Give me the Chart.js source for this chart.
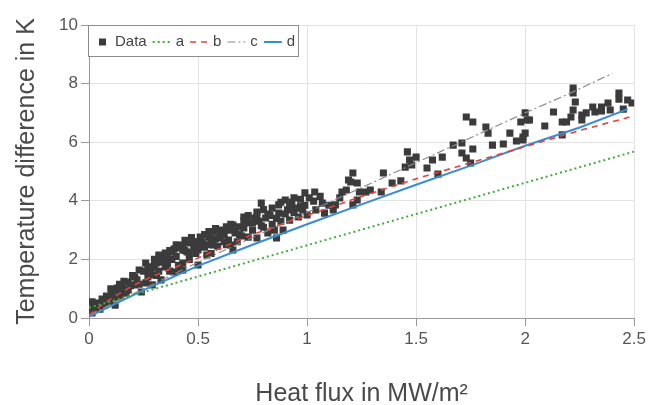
<!DOCTYPE html>
<html>
<head>
<meta charset="utf-8">
<script src="https://cdn.jsdelivr.net/npm/chart.js@4/dist/chart.umd.min.js"></script>
<style>
html,body{margin:0;padding:0;background:#fff;}
#wrap{width:649px;height:405px;}
</style>
</head>
<body>
<div id="wrap"><canvas id="c" width="649" height="405"></canvas></div>
<script>
// Measured data (heat flux in MW/m², temperature difference in K)
const dataX = [
0.005,0.014,0.014,0.04,0.03,0.064,0.07,0.096,0.105,0.12,0.13,0.14,0.15,0.156,0.18,0.18,0.21,0.21,0.22,0.23,0.24,0.26,0.27,0.29,0.29,0.30,0.31,0.33,0.33,0.35,0.35,0.36,0.38,0.39,0.40,0.42,0.43,0.43,0.45,0.45,0.47,
0.02,0.05,0.08,0.09,0.11,0.12,0.16,0.17,0.19,0.2,0.23,0.25,0.26,0.28,0.3,0.32,0.34,0.36,0.37,0.38,0.4,0.41,0.44,0.46,0.48,0.49,0.06,0.1,0.14,0.27,0.31,0.39,0.42,
0.43,0.43,0.46,0.48,0.50,0.50,0.51,0.53,0.54,0.55,0.57,0.57,0.60,0.61,0.63,0.64,0.65,0.66,0.66,0.69,0.71,0.71,0.73,0.74,0.76,0.77,0.77,0.79,0.81,0.82,0.85,0.86,0.87,0.87,0.90,0.91,0.92,0.93,0.96,0.99,
0.52,0.55,0.56,0.58,0.59,0.62,0.63,0.67,0.68,0.7,0.72,0.75,0.78,0.8,0.83,0.84,0.88,0.89,0.94,0.97,
0.3,0.32,0.34,0.37,0.4,0.44,0.47,0.49,0.51,0.53,0.55,0.56,0.58,0.6,0.62,0.64,0.65,0.67,0.69,0.71,0.73,0.75,0.77,0.79,0.8,0.82,0.84,0.86,0.88,0.9,0.92,0.94,0.95,0.97,0.99,1.01,1.06,1.1,1.16,
1.035,1.03,1.07,1.04,0.98,1.0,1.08,1.12,1.13,1.15,1.18,1.19,1.21,1.20,1.23,1.24,1.23,1.21,1.27,1.29,1.35,1.34,1.39,1.43,1.45,1.46,1.47,1.50,1.48,1.55,1.575,1.62,1.60,
1.67,1.71,1.71,1.73,1.76,1.75,1.73,1.76,1.82,1.83,1.93,1.85,1.90,1.96,1.99,2.0,1.98,2.01,2.0,1.99,2.02,
2.09,2.13,2.17,2.17,2.19,2.21,2.22,2.22,2.22,2.23,2.26,2.26,2.28,2.31,2.32,2.35,2.35,2.38,2.39,2.43,2.43,2.45,2.47,2.49
];
const dataY = [
0.27,0.55,0.17,0.51,0.35,0.61,0.44,0.68,0.89,0.44,1.02,0.72,0.89,1.06,1.23,0.96,1.40,1.13,1.30,1.64,0.89,1.88,1.40,1.71,1.13,1.47,1.88,1.98,1.30,2.22,1.74,2.05,2.25,1.57,2.39,1.64,2.49,1.88,2.56,2.25,2.59,
0.4,0.3,0.75,0.55,0.7,0.95,1.25,0.85,1.1,1.45,1.15,1.6,1.2,1.55,1.8,1.6,2.1,1.85,1.6,2.0,2.1,1.8,2.3,2.0,2.4,2.2,0.65,1.0,1.15,1.75,1.45,2.35,2.45,
2.32,1.64,2.22,2.59,2.32,1.81,2.76,2.42,2.15,2.76,2.94,2.49,2.73,3.0,3.11,2.66,2.49,3.17,2.32,3.11,3.45,3.07,2.76,3.24,3.41,3.62,2.73,3.92,3.41,2.9,3.0,2.73,3.86,3.58,4.03,3.69,3.34,3.96,3.45,4.27,
2.6,2.5,2.2,2.7,2.45,2.85,2.5,2.9,2.6,2.8,3.3,3.0,3.3,3.1,3.5,3.2,3.3,3.0,3.6,3.8,
2.0,2.15,1.9,2.3,2.5,2.65,2.75,2.6,2.45,2.85,2.95,2.65,3.05,2.9,2.6,3.0,3.2,3.05,2.85,3.3,3.5,3.25,3.45,3.15,3.7,3.55,3.75,3.4,3.95,3.55,3.8,4.1,3.75,4.05,3.85,4.1,4.15,3.85,4.3,
4.30,3.99,3.92,3.69,3.69,3.52,3.58,3.69,3.86,4.1,4.37,4.71,4.95,4.64,4.61,4.3,4.03,3.86,4.3,4.37,4.95,4.3,4.61,4.68,5.15,5.67,5.39,5.49,5.22,5.12,5.39,5.49,4.91,
5.9,5.97,5.63,5.46,5.77,5.29,6.86,6.69,6.52,6.31,6.31,5.9,5.94,6.04,6.18,7.0,6.69,6.76,6.31,6.08,6.76,
6.55,7.03,6.25,6.69,6.69,6.86,7.1,7.85,7.68,7.37,6.76,6.93,7.0,7.2,7.03,7.2,7.07,7.34,7.1,7.68,7.47,7.13,7.44,7.34
];
// Model curves
const aX = [0, 2.5];
const aY = [0.35, 5.68];
const bX = [0, 0.05, 0.1, 0.2, 0.3, 0.5, 0.75, 1, 1.25, 1.5, 1.75, 2, 2.25, 2.5];
const bY = [0.1, 0.4, 0.65, 1.1, 1.45, 2.05, 2.85, 3.5, 4.15, 4.75, 5.3, 5.85, 6.4, 6.9];
const cX = [0, 0.25, 0.5, 0.75, 1, 1.25, 1.5, 1.75, 2, 2.2, 2.4];
const cY = [0.1, 1.0, 1.9, 2.75, 3.6, 4.45, 5.3, 6.15, 7.0, 7.65, 8.35];
const dX = [0, 0.25, 0.5, 0.75, 1, 1.25, 1.5, 1.75, 2, 2.25, 2.47];
const dY = [0.05, 0.95, 1.78, 2.5, 3.2, 3.88, 4.55, 5.2, 5.88, 6.5, 7.13];
// Axis tick values
const xTicks = [0, 0.5, 1, 1.5, 2, 2.5];
const yTicks = [0, 2, 4, 6, 8, 10];
const xTitle = 'Heat flux in MW/m²';
const yTitle = 'Temperature difference in K';
const legendLabels = ['Data', 'a', 'b', 'c', 'd'];

const zip = (xs, ys) => xs.map((x, i) => ({x: x, y: ys[i]}));

const COL = {data:'#3b3b3b', a:'#3fae3a', b:'#e5413b', c:'#8a8a8a', d:'#3a8dd0'};
const lineStyles = [
  {key:'a', dash:[2,3], w:2},
  {key:'b', dash:[6,5], w:1.6},
  {key:'c', dash:[8,3,2,3], w:1.2},
  {key:'d', dash:[], w:2}
];

const FONT = "'Liberation Sans', Arial, sans-serif";

const legendPlugin = {
  id: 'boxLegend',
  afterDraw(chart) {
    const ctx = chart.ctx;
    const ca = chart.chartArea;
    const left = ca.left - 1, top = ca.top;
    const cy = top + 17;
    ctx.save();
    ctx.fillStyle = '#fff';
    ctx.fillRect(left, top, 210, 31);
    ctx.strokeStyle = '#8c8c8c';
    ctx.lineWidth = 1;
    ctx.strokeRect(left + 0.5, top + 0.5, 210, 31);
    ctx.font = '15px ' + FONT;
    ctx.textBaseline = 'middle';
    ctx.textAlign = 'left';
    ctx.fillStyle = COL.data;
    ctx.fillRect(left + 11, cy - 3.5, 7, 7);
    let x = left + 27;
    ctx.fillStyle = '#444';
    ctx.fillText(legendLabels[0], x, cy);
    x += ctx.measureText(legendLabels[0]).width + 6;
    lineStyles.forEach((s, i) => {
      ctx.beginPath();
      ctx.setLineDash(s.dash);
      ctx.strokeStyle = COL[s.key];
      ctx.lineWidth = s.w;
      ctx.moveTo(x, cy);
      ctx.lineTo(x + 18, cy);
      ctx.stroke();
      ctx.setLineDash([]);
      x += 23;
      ctx.fillStyle = '#444';
      ctx.fillText(legendLabels[i + 1], x, cy);
      x += ctx.measureText(legendLabels[i + 1]).width + 6;
    });
    ctx.restore();
  }
};

const lineDs = (label, xs, ys, s) => ({
  label: label,
  data: zip(xs, ys),
  showLine: true,
  borderColor: COL[s.key],
  backgroundColor: COL[s.key],
  borderWidth: s.w,
  borderDash: s.dash,
  pointRadius: 0,
  tension: 0,
  fill: false,
  order: 0
});

new Chart(document.getElementById('c'), {
  type: 'scatter',
  data: {
    datasets: [
      lineDs('a', aX, aY, lineStyles[0]),
      lineDs('b', bX, bY, lineStyles[1]),
      lineDs('c', cX, cY, lineStyles[2]),
      lineDs('d', dX, dY, lineStyles[3]),
      {
        label: 'Data',
        data: zip(dataX, dataY),
        pointStyle: 'rect',
        pointRadius: 5,
        pointBorderWidth: 0,
        backgroundColor: COL.data,
        borderColor: COL.data,
        order: 1
      }
    ]
  },
  options: {
    responsive: false,
    animation: false,
    devicePixelRatio: 1,
    layout: {padding: {top: 25, right: 14, bottom: 0, left: 0}},
    plugins: {legend: {display: false}, tooltip: {enabled: false}},
    scales: {
      x: {
        type: 'linear', min: 0, max: 2.5,
        afterBuildTicks: (s) => { s.ticks = xTicks.map(v => ({value: v})); },
        afterFit: (s) => { s.height = 87; },
        ticks: {color: '#555', font: {family: FONT, size: 17}, padding: 3,
                callback: (v) => String(v)},
        grid: {color: '#e3e3e3', lineWidth: 1, tickLength: 8, tickColor: '#999'},
        border: {color: '#999', width: 1},
        title: {display: true, text: xTitle, color: '#4a4a4a',
                font: {family: FONT, size: 25}, padding: {top: 0, bottom: -4}}
      },
      y: {
        type: 'linear', min: 0, max: 10,
        afterBuildTicks: (s) => { s.ticks = yTicks.map(v => ({value: v})); },
        afterFit: (s) => { s.width = 89; },
        ticks: {color: '#555', font: {family: FONT, size: 17}, padding: 3,
                callback: (v) => String(v)},
        grid: {color: '#e3e3e3', lineWidth: 1, tickLength: 8, tickColor: '#999'},
        border: {color: '#999', width: 1},
        title: {display: true, text: yTitle, color: '#4a4a4a',
                font: {family: FONT, size: 25}, padding: {top: 12, bottom: 0}}
      }
    }
  },
  plugins: [legendPlugin]
});
</script>
</body>
</html>
